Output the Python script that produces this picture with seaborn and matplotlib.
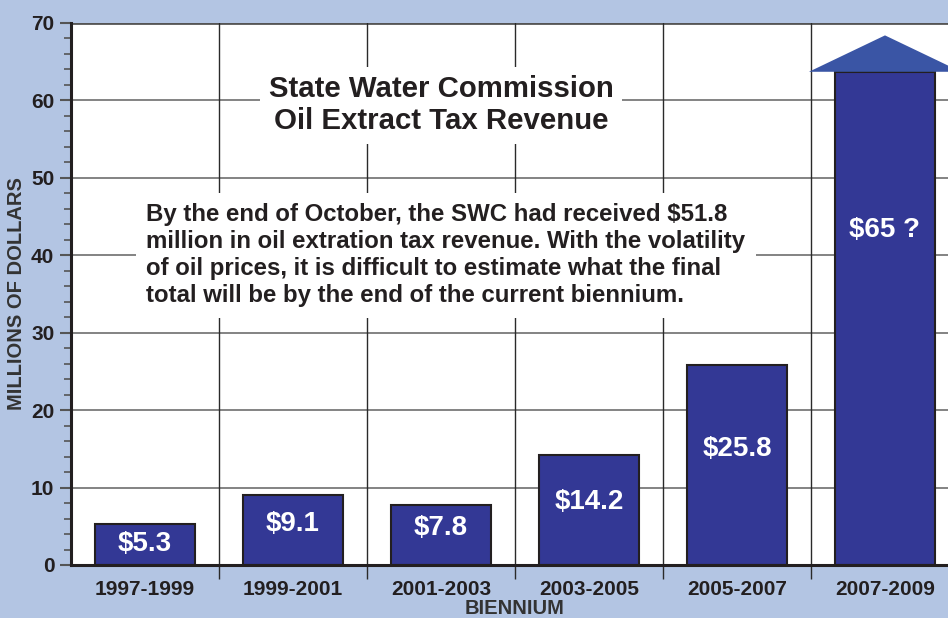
import numpy as np
import matplotlib
matplotlib.use('Agg')
import matplotlib.pyplot as plt
import seaborn as sns
from matplotlib.patches import Polygon
from matplotlib.ticker import MultipleLocator

# данные
biennium = ['1997-1999', '1999-2001', '2001-2003', '2003-2005', '2005-2007', '2007-2009']
revenue = [5.3, 9.1, 7.8, 14.2, 25.8, 65]
bar_labels = ['$5.3', '$9.1', '$7.8', '$14.2', '$25.8', '$65 ?']
label_y = [2.7, 5.3, 4.8, 8.1, 15.0, 43.3]

# последний столбец рисуется как стрелка (ствол + наконечник)
arrow_base = 63.7
arrow_tip = 68.4
heights = revenue[:-1] + [arrow_base]

sns.set_theme(style='white')
plt.rcParams['font.family'] = ['Liberation Sans', 'DejaVu Sans']

bg = '#b3c5e3'
bar_color = '#333895'
dark = '#231f20'

fig = plt.figure(figsize=(9.48, 6.18), dpi=100, facecolor=bg)
ax = fig.add_axes([71 / 948, 53 / 618, 888 / 948, 542 / 618])
ax.set_facecolor('white')

sns.barplot(x=biennium, y=heights, color=bar_color, saturation=1,
            edgecolor=dark, linewidth=1.5, width=0.67, ax=ax, zorder=3)

# наконечник стрелки
ax.add_patch(Polygon([(4.486, arrow_base), (5.0, arrow_tip), (5.514, arrow_base)],
                     closed=True, facecolor='#3a55a5', edgecolor='none', zorder=4))

for i, (lab, yy) in enumerate(zip(bar_labels, label_y)):
    ax.text(i, yy, lab, ha='center', va='center', color='white',
            fontsize=20, fontweight='bold', zorder=5)

ax.set_xlim(-0.5, 5.5)
ax.set_ylim(0, 70)
ax.set_yticks(np.arange(0, 71, 10))
ax.yaxis.set_minor_locator(MultipleLocator(2))
ax.set_xticks(np.arange(0.5, 5.5, 1), minor=True)

# сетка
for yv in range(10, 71, 10):
    ax.axhline(yv, color='#7a7a7a' if yv < 70 else '#555555',
               lw=1.3 if yv < 70 else 2, zorder=1)
for xv in np.arange(0.5, 5.5, 1):
    ax.axvline(xv, color='#2a2a2a', lw=1, zorder=1)

ax.tick_params(axis='y', which='major', length=8, width=1.5, color='#555555',
               left=True, labelsize=15, labelcolor=dark, pad=4)
ax.tick_params(axis='y', which='minor', length=5, width=1.2, color='#555555', left=True)
ax.tick_params(axis='x', which='major', length=0, labelsize=15, labelcolor=dark, pad=11)
ax.tick_params(axis='x', which='minor', length=10, width=1, color='#2a2a2a',
               bottom=True, direction='out')
for t in ax.get_xticklabels() + ax.get_yticklabels():
    t.set_fontweight('bold')

for s in ['top', 'right']:
    ax.spines[s].set_visible(False)
for s in ['left', 'bottom']:
    ax.spines[s].set_color(dark)
    ax.spines[s].set_linewidth(2.2)
    ax.spines[s].set_zorder(6)

ax.set_xlabel('BIENNIUM', fontsize=14.5, fontweight='bold', color='#333333')
ax.set_ylabel('MILLIONS OF DOLLARS', fontsize=14.5, fontweight='bold', color='#333333')
ax.xaxis.set_label_coords(0.5, -0.062)
ax.yaxis.set_label_coords(-0.051, 0.5)

# заголовок и пояснение
ax.text(2.0, 59.4, 'State Water Commission\nOil Extract Tax Revenue',
        ha='center', va='center', fontsize=21.2, fontweight='bold', color=dark,
        linespacing=1.15, zorder=2,
        bbox=dict(facecolor='white', edgecolor='none', boxstyle='square,pad=0.3'))
ax.text(0.01, 40.0,
        'By the end of October, the SWC had received $51.8\n'
        'million in oil extration tax revenue. With the volatility\n'
        'of oil prices, it is difficult to estimate what the final\n'
        'total will be by the end of the current biennium.',
        ha='left', va='center', fontsize=17.3, fontweight='bold', color=dark,
        linespacing=1.22, zorder=2,
        bbox=dict(facecolor='white', edgecolor='none', boxstyle='square,pad=0.45'))

fig.savefig('out.png', dpi=100, facecolor=bg)
